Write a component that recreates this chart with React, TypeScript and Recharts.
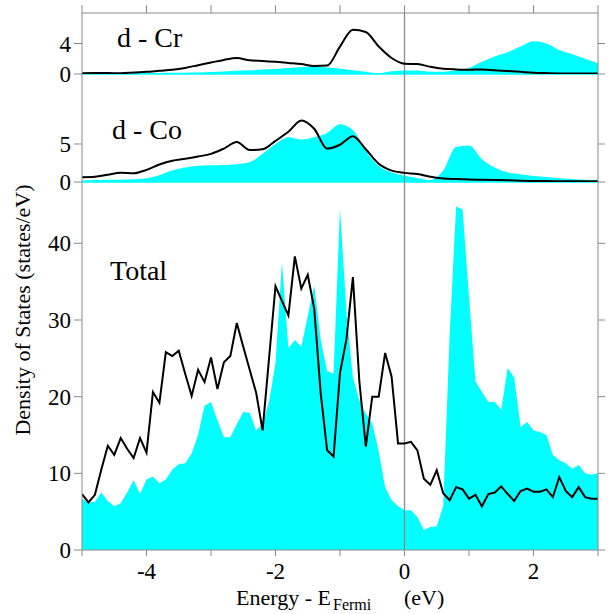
import { ComposedChart, Area, Line, XAxis, YAxis, ReferenceLine } from "recharts";

// energy grid of the total DOS (0.1 eV step)
const energyFine = [
  -5.0, -4.9, -4.8, -4.7, -4.6, -4.5, -4.4, -4.3, -4.2, -4.1,
  -4.0, -3.9, -3.8, -3.7, -3.6, -3.5, -3.4, -3.3, -3.2, -3.1,
  -3.0, -2.9, -2.8, -2.7, -2.6, -2.5, -2.4, -2.3, -2.2, -2.1,
  -2.0, -1.9, -1.8, -1.7, -1.6, -1.5, -1.4, -1.3, -1.2, -1.1,
  -1.0, -0.9, -0.8, -0.7, -0.6, -0.5, -0.4, -0.3, -0.2, -0.1,
  0.0, 0.1, 0.2, 0.3, 0.4, 0.5, 0.6, 0.7, 0.8, 0.9,
  1.0, 1.1, 1.2, 1.3, 1.4, 1.5, 1.6, 1.7, 1.8, 1.9,
  2.0, 2.1, 2.2, 2.3, 2.4, 2.5, 2.6, 2.7, 2.8, 2.9,
  3.0,
];

const totalCyan = [
  6.7, 6.2, 6.3, 7.5, 6.4, 5.7, 6.1, 7.5, 9.1, 7.3,
  9.2, 9.6, 8.7, 9.2, 10.5, 11.2, 11.3, 12.6, 15.0, 18.8,
  19.3, 16.9, 14.7, 14.7, 16.4, 18.0, 17.9, 15.6, 16.5, 19.3,
  24.4, 37.5, 26.3, 27.4, 26.5, 30.5, 34.5, 27.5, 23.3, 23.0,
  44.5, 31.0, 22.5, 19.5, 17.8, 16.5, 12.8, 8.2, 6.5, 5.7,
  5.2, 5.2, 4.3, 2.6, 3.0, 3.1, 5.7, 28.0, 44.8, 44.4,
  33.0, 22.0, 20.6, 19.3, 19.3, 18.3, 23.7, 22.5, 16.0, 16.7,
  15.6, 15.4, 15.0, 12.4, 11.7, 11.3, 10.6, 11.1, 10.0, 9.8,
  10.0,
];

const totalLine = [
  7.3, 6.2, 7.2, 10.5, 13.6, 12.4, 14.6, 13.2, 12.0, 14.6,
  12.7, 20.6, 19.2, 25.8, 25.3, 26.0, 23.0, 20.1, 23.5, 21.9,
  25.1, 21.0, 24.5, 25.3, 29.6, 26.5, 23.5, 20.5, 15.6, 25.0,
  34.4, 32.5, 30.6, 38.3, 34.1, 35.9, 31.5, 20.5, 13.0, 12.2,
  23.1, 27.5, 35.6, 22.0, 13.5, 20.0, 20.0, 25.7, 22.6, 13.9,
  13.9, 14.1, 13.0, 9.3, 8.5, 10.4, 7.4, 6.5, 8.2, 7.9,
  6.7, 7.2, 5.7, 7.3, 7.5, 8.3, 7.3, 6.4, 7.7, 8.0,
  7.6, 7.6, 7.9, 6.9, 9.5, 7.7, 6.9, 8.2, 6.9, 6.7,
  6.7,
];

// energy grid of the projected d-DOS (0.2 eV step)
const energyCoarse = [
  -5.0, -4.8, -4.6, -4.4, -4.2, -4.0, -3.8, -3.6, -3.4, -3.2,
  -3.0, -2.8, -2.6, -2.4, -2.2, -2.0, -1.8, -1.6, -1.4, -1.2,
  -1.0, -0.8, -0.6, -0.4, -0.2, 0.0, 0.2, 0.4, 0.6, 0.8,
  1.0, 1.2, 1.4, 1.6, 1.8, 2.0, 2.2, 2.4, 2.6, 2.8,
  3.0,
];

const crCyan = [
  0.1, 0.1, 0.1, 0.1, 0.1, 0.1, 0.12, 0.15, 0.18, 0.2,
  0.25, 0.33, 0.42, 0.5, 0.58, 0.65, 0.8, 0.9, 1.0, 0.85,
  0.7, 0.5, 0.3, 0.1, 0.35, 0.45, 0.45, 0.3, 0.3, 0.45,
  0.8, 1.6, 2.3, 2.85, 3.6, 4.3, 4.0, 3.15, 2.6, 2.0,
  1.4,
];

const crLine = [
  0.1, 0.12, 0.12, 0.1, 0.2, 0.28, 0.42, 0.55, 0.8, 1.15,
  1.5, 1.85, 2.1, 1.8, 1.72, 1.6, 1.45, 1.3, 1.05, 1.1,
  3.6, 5.8, 5.5, 3.6, 2.1, 1.35, 1.3, 0.95, 0.7, 0.6,
  0.55, 0.6, 0.5, 0.38, 0.28, 0.18, 0.12, 0.07, 0.05, 0.05,
  0.05,
];

const coCyan = [
  0.2, 0.25, 0.3, 0.3, 0.35, 0.5, 0.9, 1.5, 1.9, 2.15,
  2.2, 2.25, 2.35, 2.6, 3.7, 5.0, 5.9, 5.6, 5.9, 6.45,
  7.6, 6.8, 4.1, 2.1, 1.25, 0.85, 0.5, 0.25, 1.5, 4.6,
  4.8, 3.0, 1.9, 1.25, 1.0, 0.8, 0.65, 0.5, 0.38, 0.28,
  0.2,
];

const coLine = [
  0.62, 0.68, 0.95, 1.2, 1.15, 1.6, 2.3, 2.8, 3.05, 3.35,
  3.7, 4.4, 5.25, 4.2, 4.3, 5.4, 6.6, 8.1, 7.0, 4.4,
  4.9, 6.0, 4.3, 2.4, 1.5, 1.2, 1.05, 0.7, 0.45, 0.38,
  0.33, 0.3, 0.27, 0.24, 0.18, 0.13, 0.12, 0.11, 0.1, 0.1,
  0.1,
];

const xTicks = [-5, -4, -3, -2, -1, 0, 1, 2, 3];
const crTicks = [0, 4];
const coTicks = [0, 5];
const totalTicks = [0, 10, 20, 30, 40];

const totalData = energyFine.map((e, i) => ({ e, fill: totalCyan[i], line: totalLine[i] }));
const crData = energyCoarse.map((e, i) => ({ e, fill: crCyan[i], line: crLine[i] }));
const coData = energyCoarse.map((e, i) => ({ e, fill: coCyan[i], line: coLine[i] }));

const W = 608;
const H = 614;
const grey = "#8a8a8a";
const cyan = "#00ffff";
const serif = '"Liberation Serif", "Times New Roman", serif';
const tickFont = { fill: "#000", fontSize: 23, fontFamily: serif };
const blank = () => "";

const layer: React.CSSProperties = { position: "absolute", left: 0, top: 0 };

// only the even energies carry a label
const EnergyTick = (props: any) => {
  const { x, payload } = props;
  if (payload.value % 2 !== 0) return <g />;
  return (
    <text x={x} y={579} textAnchor="middle" fill="#000" fontSize={23} fontFamily={serif}>
      {payload.value}
    </text>
  );
};

type PanelProps = {
  data: { e: number; fill: number; line: number }[];
  top: number;
  bottom: number;
  ymax: number;
  ticks: number[];
  curve: "monotone" | "linear";
  axis: "top" | "bottom" | "none";
};

function Panel({ data, top, bottom, ymax, ticks, curve, axis }: PanelProps) {
  return (
    <div style={layer}>
      <ComposedChart
        width={W}
        height={H}
        data={data}
        margin={{ top: axis === "top" ? 0 : top, right: 0, bottom: axis === "bottom" ? 0 : H - bottom, left: 0 }}
      >
        {axis === "top" && (
          <XAxis
            type="number"
            dataKey="e"
            domain={[-5, 3]}
            ticks={xTicks}
            interval={0}
            orientation="top"
            height={top}
            tickSize={8}
            tickFormatter={blank}
            stroke={grey}
            allowDataOverflow
          />
        )}
        {axis === "bottom" && (
          <XAxis
            type="number"
            dataKey="e"
            domain={[-5, 3]}
            ticks={xTicks}
            interval={0}
            height={H - bottom}
            tickSize={6}
            tick={<EnergyTick />}
            stroke={grey}
            allowDataOverflow
          />
        )}
        {axis === "none" && <XAxis type="number" dataKey="e" domain={[-5, 3]} hide allowDataOverflow />}
        <YAxis
          yAxisId="l"
          domain={[0, ymax]}
          ticks={ticks}
          interval={0}
          width={82}
          tickSize={8}
          tickMargin={3}
          tick={tickFont}
          stroke={grey}
          allowDataOverflow
        />
        <YAxis
          yAxisId="r"
          orientation="right"
          domain={[0, ymax]}
          ticks={ticks}
          interval={0}
          width={10}
          tickSize={7}
          tickFormatter={blank}
          stroke={grey}
          allowDataOverflow
        />
        <Area
          yAxisId="l"
          dataKey="fill"
          type={curve}
          fill={cyan}
          fillOpacity={1}
          stroke="none"
          isAnimationActive={false}
        />
        {axis !== "bottom" && <ReferenceLine yAxisId="l" y={0} stroke={cyan} strokeWidth={1.5} />}
        <ReferenceLine yAxisId="l" x={0} stroke={grey} strokeWidth={1.3} />
        <Line
          yAxisId="l"
          dataKey="line"
          type={curve}
          stroke="#000"
          strokeWidth={2}
          dot={false}
          isAnimationActive={false}
        />
      </ComposedChart>
    </div>
  );
}

export default function App() {
  return (
    <div style={{ position: "absolute", left: 0, top: 0, width: W, height: H, background: "#fff" }}>
      <Panel data={crData} top={13} bottom={74} ymax={8} ticks={crTicks} curve="monotone" axis="top" />
      <Panel data={coData} top={74} bottom={182} ymax={14.2} ticks={coTicks} curve="monotone" axis="none" />
      <Panel data={totalData} top={182} bottom={550} ymax={48} ticks={totalTicks} curve="linear" axis="bottom" />
      <svg width={W} height={H} style={{ ...layer, pointerEvents: "none" }} fontFamily={serif} fill="#000">
        <text x={117} y={47} fontSize={28}>d - Cr</text>
        <text x={112} y={139} fontSize={28}>d - Co</text>
        <text x={110} y={280} fontSize={28}>Total</text>
        <text transform="translate(30,310) rotate(-90)" textAnchor="middle" fontSize={22}>
          Density of States (states/eV)
        </text>
        <text y={605} fontSize={22}>
          <tspan x={236}>Energy - E</tspan>
          <tspan x={333} y={610} fontSize={16}>Fermi</tspan>
          <tspan x={404} y={605}>(eV)</tspan>
        </text>
      </svg>
    </div>
  );
}
